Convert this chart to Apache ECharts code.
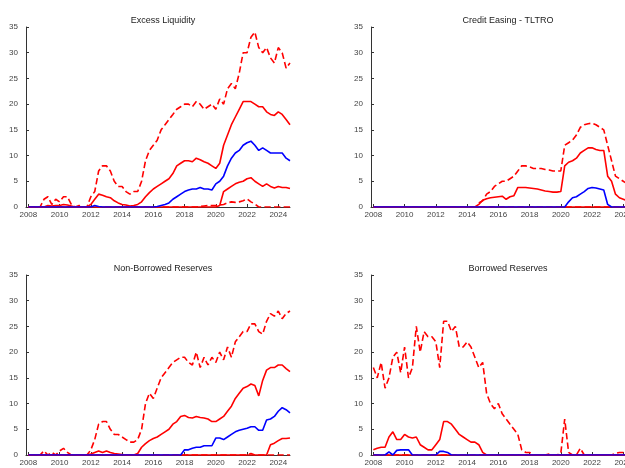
<!DOCTYPE html>
<html><head><meta charset="utf-8">
<script src="https://cdn.jsdelivr.net/npm/echarts@6/dist/echarts.min.js"></script>
<style>html,body{margin:0;padding:0;background:#fff}#c{width:625px;height:468px}</style>
</head><body><div id="c"></div>
<script>
const titles=["Excess Liquidity","Credit Easing - TLTRO","Non-Borrowed Reserves","Borrowed Reserves"];
const years=[];for(let y=2008;y<2025;y++)for(let q=0;q<4;q++)years.push(y+q*0.25);
const yearTicks=[2008,2010,2012,2014,2016,2018,2020,2022,2024];
const yTicks=[0,5,10,15,20,25,30,35];
const Z=n=>new Array(n).fill(0);
const N=n=>new Array(n).fill(null);
// Excess Liquidity
const elP90=[0,0,0,0,1.5,2,0.5,1.5,1,2,2,0.5,0,0.3,0,0,2,3,7,8,8,7,5,4,4,3,2.5,3,3,5,9,11,12,13,15,16,17,18,19,19.5,20,20,19.5,20.5,20,19,19.5,20,19,21,20,23,24,23,26,30,30,33,34,31,30,31,29,28,31,30,27,28];
const elP75=[0,0,0,0,0,0.3,0.2,0.3,0.3,0.5,0.4,0.2,0,0,0,0,0.5,1.5,2.5,2.3,2,1.8,1.2,0.8,0.5,0.4,0.2,0.3,0.5,1,2,2.8,3.5,4,4.5,5,5.5,6.5,8,8.5,9,9,8.8,9.5,9.2,8.8,8.5,8,7.5,8.5,12,14,16,17.5,19,20.5,20.5,20.5,20,19.5,19.5,18.5,18,17.8,18.5,18,17,16];
const elMed=[...Z(16),0,0.3,0.1,0,...Z(12),0,0.1,0.3,0.5,0.8,1.5,2,2.5,3,3.3,3.5,3.5,3.8,3.5,3.5,3.3,4.5,5,6,8,9.5,10.5,11,12,12.5,12.8,12,11,11.5,11,10.5,10.5,10.5,10.5,9.5,9];
const elP25=[...Z(48),0,0.3,3,3.5,4,4.5,4.8,5,5.5,5.7,5,4.5,4,4.5,4,3.7,4,3.8,3.8,3.6];
const elP10=[...Z(44),0.1,0.2,0.3,0.3,0.3,0.4,0.5,0.8,1,0.9,1,1.2,1.6,1,0.6,0,...Z(8)];
// Credit Easing - TLTRO
const ceP90=[...N(27),0.8,1.2,2.5,3,4,4.5,5,5,5.5,6,7,8,8,7.8,7.5,7.5,7.5,7.3,7.2,7,7,7,12,12.5,13,14,15.5,16,16.2,16.3,16,15.5,15,12,9,6,5.5,5,4.5,4.2,4];
const ceP75=[...Z(27),0.5,1.3,1.6,1.8,1.9,2,2.1,1.5,2,2.2,3.8,3.8,3.8,3.7,3.6,3.5,3.3,3.1,3,2.9,2.9,3,8,8.7,9,9.5,10.5,11,11.5,11.5,11.2,11,11,6,5,2.5,1.8,1.5,1.2,1,1];
const ceMed=[...Z(48),0,0,1,1.8,2,2.5,3,3.6,3.8,3.7,3.5,3.3,0.5,0,0,0,0,0,0,0];
const ceP25=Z(68);
const ceP10=Z(68);
// Non-Borrowed Reserves
const nbP90=[0,0,0,0,0.8,0,0.5,0,0.8,1.3,0.5,0,0,0,0,0,1,3,6,6.5,6.5,5,4,4,3.5,3,2.5,2.5,3,5,10,12,11,13,15,16,17,18,18.5,19,19,18,17.5,20,17,19,17.5,19,18,20,18.5,21,19,22,23,24,24,25.5,25.5,24,23.5,26,27.5,27,28,26.5,27.5,28];
const nbP75=[...Z(16),0.2,0.5,0.8,0.5,0.8,0.5,0.3,0.2,0.1,0,0,0,0.3,1.5,2.2,2.8,3.2,3.5,4,4.5,5,6,6.5,7.5,7.7,7.3,7.2,7.5,7.3,7.2,7,6.5,6.5,7,7.5,8.5,9.5,11,12,13,13.3,13.8,13.5,11.5,14.5,16.5,17,17,17.5,17.5,16.8,16.2];
const nbMed=[...Z(40),1,1,1.3,1.5,1.5,1.8,1.8,1.8,3.3,3.3,3,3.5,4,4.5,4.8,5,5.2,5.5,5.5,4.8,4.8,6.8,7,7.5,8.5,9.2,8.8,8.2];
const nbP25=[...Z(62),2,2.3,2.8,3.2,3.2,3.3];
const nbP10=[...Z(57),0.3,0,...Z(9)];
// Borrowed Reserves
const brP90=[17,15,18,13,15,19,20,16,21,15,17,25,20,24,23,23,22,17,26,26,24,25,21,21,22,21,19,17,18,12,10,9,10,8,7,6,5,4,1,0.5,0.5,0,0,0,0,0.2,0,0,0.3,7,0.5,0,0,1.3,0,0,0,0,0,0,0,0,0.3,0.5,0.5,0.3,0.5,0.4];
const brP75=[1,1.3,1.5,1.5,3.5,4.5,3,3,4,3.5,3.3,3.5,2,1.5,1,1,2,3,6.5,6.5,6,5,4,3.5,3,2.5,2.5,2,0.5,0,0,0,...Z(36)];
const brMed=[0,0,0,0,0.6,0,0.9,1,1,1,0,0,0,0,0,0,0,0.7,0.7,0.5,...Z(48)];
const brP25=Z(68);
const brP10=Z(68);

const panels=[[elP90,elP75,elMed,elP25,elP10],[ceP90,ceP75,ceMed,ceP25,ceP10],[nbP90,nbP75,nbMed,nbP25,nbP10],[brP90,brP75,brMed,brP25,brP10]];
const styles=[{c:'#ff0000',t:'dashed'},{c:'#ff0000',t:'solid'},{c:'#0000ff',t:'solid'},{c:'#ff0000',t:'solid'},{c:'#ff0000',t:'dashed'}];
const pos=[{l:26,t:27},{l:371,t:27},{l:26,t:275},{l:371,t:275}];
const grid=[],xAxis=[],yAxis=[],series=[],title=[];
const lab={color:'#444',fontSize:8,fontFamily:'Liberation Sans'};
pos.forEach((p,i)=>{
  grid.push({left:p.l,top:p.t,width:264,height:180,outerBoundsMode:'none',containLabel:false});
  title.push({text:titles[i],left:p.l+132,top:p.t-16,textAlign:'center',textStyle:{fontSize:9,fontWeight:'normal',color:'#222',fontFamily:'Liberation Sans'}});
  xAxis.push({type:'value',gridIndex:i,min:2007.85,max:2024.75,splitLine:{show:false},
    axisLine:{lineStyle:{color:'#333',width:1}},
    axisTick:{customValues:yearTicks,length:3,inside:true,lineStyle:{color:'#333'}},
    axisLabel:{...lab,customValues:yearTicks,margin:4,formatter:v=>String(Math.round(v))}});
  yAxis.push({type:'value',gridIndex:i,min:0,max:35,interval:5,splitLine:{show:false},
    axisLine:{show:true,lineStyle:{color:'#333',width:1}},
    axisTick:{show:true,inside:true,length:3,lineStyle:{color:'#333'}},
    axisLabel:{...lab,margin:8}});
  [0,1,3,4,2].forEach(k=>{
    series.push({type:'line',xAxisIndex:i,yAxisIndex:i,showSymbol:false,symbol:'none',
      data:panels[i][k].map((v,j)=>[years[j],v]),
      lineStyle:{color:styles[k].c,type:styles[k].t,width:1.6},z:k===2?3:2,animation:false});
  });
});
const ch=echarts.init(document.getElementById('c'));
ch.setOption({animation:false,title,grid,xAxis,yAxis,series});
</script></body></html>
